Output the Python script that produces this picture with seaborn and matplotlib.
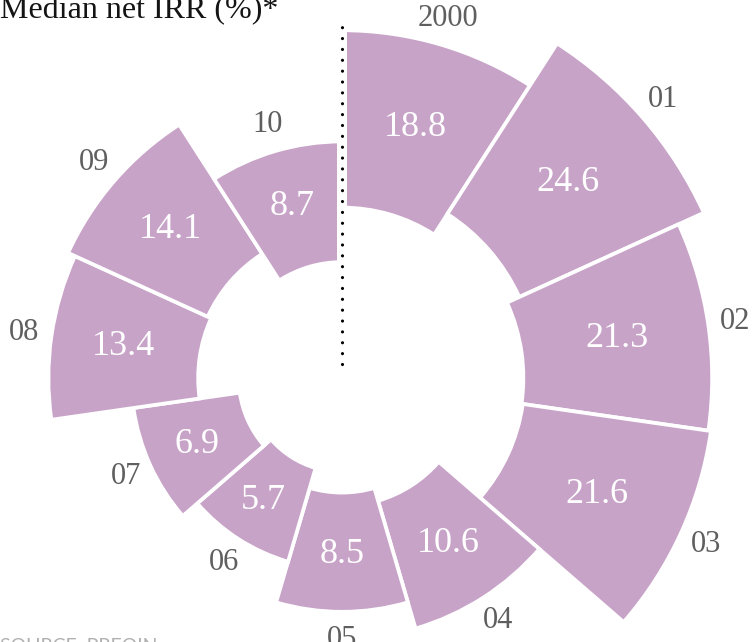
import numpy as np
import pandas as pd
import matplotlib
matplotlib.use("Agg")
import matplotlib.pyplot as plt
import seaborn as sns

# ---- data -------------------------------------------------------------
years = ["2000", "01", "02", "03", "04", "05", "06", "07", "08", "09", "10"]
irr = [18.8, 24.6, 21.3, 21.6, 10.6, 8.5, 5.7, 6.9, 13.4, 14.1, 8.7]
title_text = "Median net IRR (%)*"
source_text = "SOURCE: PREQIN"

# ---- style ------------------------------------------------------------
sns.set_theme(style="white")
plt.rcParams["font.family"] = ["Liberation Serif", "DejaVu Serif"]
bar_color = "#c8a3c8"
label_grey = "#5f5f5f"

df = pd.DataFrame({"year": years, "irr": irr})
n = len(df)
# area-proportional rose: outer radius ~ sqrt(value), inner edge a fixed fraction of it
df["outer"] = np.sqrt(df["irr"])
inner_frac = 0.49
df["inner"] = df["outer"] * inner_frac
step = 2 * np.pi / n
df["theta"] = np.arange(n) * step + step / 2

# ---- figure / axes placement -------------------------------------------
W, H = 754, 642
fig = plt.figure(figsize=(W / 100, H / 100), dpi=100)
cx, cy = 342, 378          # centre of the rose in pixels (from top-left)
scale = 80.2               # pixels per sqrt-unit
R = 5.0
rad = R * scale
ax = fig.add_axes([(cx - rad) / W, ((H - cy) - rad) / H, 2 * rad / W, 2 * rad / H],
                  projection="polar")
ax.set_theta_zero_location("N")
ax.set_theta_direction(-1)
ax.set_ylim(0, R)
ax.set_axis_off()

ax.bar(df["theta"], df["outer"] - df["inner"], width=step, bottom=df["inner"],
       color=bar_color, edgecolor="white", linewidth=2.7, align="center", zorder=2)

# dotted start line with a white gap under it
r_top = 353 / scale
ax.plot([0, 0], [0, r_top], color="white", lw=7.2, solid_capstyle="butt", zorder=3)
ax.plot([0, 0], [14 / scale, r_top], color="black", lw=2.3,
        linestyle=(0, (0.001, 3.4)), dash_capstyle="round", zorder=4)

# value labels and year labels
for _, row in df.iterrows():
    ax.text(row["theta"], (row["outer"] + row["inner"]) / 2 + 0.03, f"{row['irr']:.1f}",
            ha="center", va="center", color="white", fontsize=26, zorder=5)
    ax.text(row["theta"], row["outer"] + 0.34, row["year"],
            ha="center", va="center", color=label_grey, fontsize=22, zorder=5)

fig.text(0.0, 1 - 18 / H, title_text, ha="left", va="baseline",
         fontsize=23, color="#141414")
fig.text(0.0, 1 - 652 / H, source_text, ha="left", va="baseline",
         fontsize=14, color="#b0b0b0", family=["Lato", "DejaVu Sans"])

fig.savefig("out.png", dpi=100)
